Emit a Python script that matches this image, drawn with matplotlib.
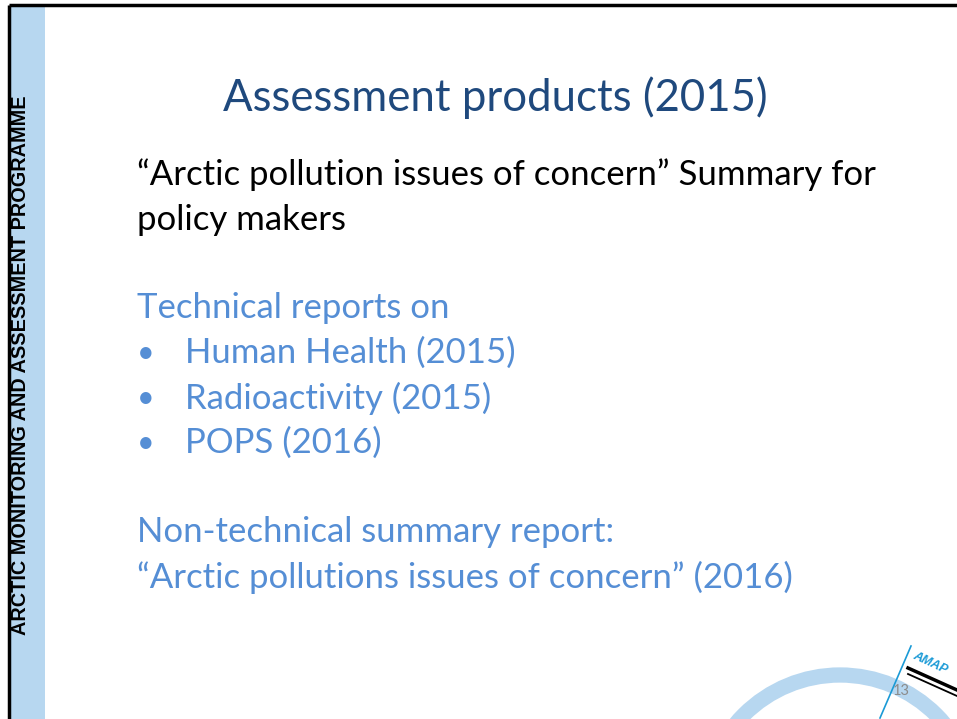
import matplotlib.pyplot as plt
import matplotlib.patches as mpatches

# slide content
title = "Assessment products (2015)"
intro_lines = ["\u201cArctic pollution issues of concern\u201d Summary for",
               "policy makers"]
tech_heading = "Technical reports on"
tech_items = ["Human Health (2015)", "Radioactivity (2015)", "POPS (2016)"]
summary_lines = ["Non-technical summary report:",
                 "\u201cArctic pollutions issues of concern\u201d (2016)"]
side_label = "ARCTIC MONITORING AND ASSESSMENT PROGRAMME"
page_no = "13"

dark_blue = "#1F497D"
light_blue = "#558ED5"
band_blue = "#B7D7F0"
body_font = ["Lato", "DejaVu Sans"]
body_size = 25

fig = plt.figure(figsize=(9.57, 7.19), dpi=100)
ax = fig.add_axes([0, 0, 1, 1])
ax.set_xlim(0, 957)
ax.set_ylim(719, 0)
ax.axis("off")

# left band and frame lines
ax.add_patch(mpatches.Rectangle((10, 6), 35, 713, color=band_blue, lw=0))
ax.plot([9, 957], [5, 5], color="black", lw=2.5, solid_capstyle="butt")
ax.plot([9, 9], [5, 719], color="black", lw=2.5, solid_capstyle="butt")
ax.text(21, 365, side_label, rotation=90, ha="center", va="center",
        fontsize=14.3, fontweight="bold", family="Liberation Sans")

# title
ax.text(495, 98, title, ha="center", va="center", fontsize=31.5,
        color=dark_blue, family=body_font)

# body text
for i, line in enumerate(intro_lines):
    ax.text(137, 175 + 45 * i, line, ha="left", va="center",
            fontsize=body_size, color="black", family=body_font)

ax.text(137, 308, tech_heading, ha="left", va="center", fontsize=body_size,
        color=light_blue, family=body_font)
for i, item in enumerate(tech_items):
    y = 353 + 45 * i
    ax.text(146, y, "\u2022", ha="center", va="center", fontsize=22,
            color=light_blue, family=body_font)
    ax.text(185, y, item, ha="left", va="center", fontsize=body_size,
            color=light_blue, family=body_font)

for i, line in enumerate(summary_lines):
    ax.text(137, 532 + 45 * i, line, ha="left", va="center",
            fontsize=body_size, color=light_blue, family=body_font)

# decorative arc and logo in the corner
ax.add_patch(mpatches.Arc((840, 811), 272, 272, theta1=180, theta2=360,
                          color=band_blue, lw=11))
ax.plot([880, 911], [718, 646], color="#1A9AD6", lw=1.2)
ax.text(930, 663, "AMAP", rotation=-25, ha="center", va="center",
        fontsize=9, fontweight="bold", style="italic", color="#1A9AD6",
        family="Liberation Sans")
ax.plot([908, 957], [668, 690], color="black", lw=2.5)
ax.plot([908, 957], [674, 696], color="black", lw=1.3)
ax.text(901, 691, page_no, ha="center", va="center", fontsize=10.5,
        color="#8C8C8C", family=body_font)

fig.savefig("out.png", dpi=100)
